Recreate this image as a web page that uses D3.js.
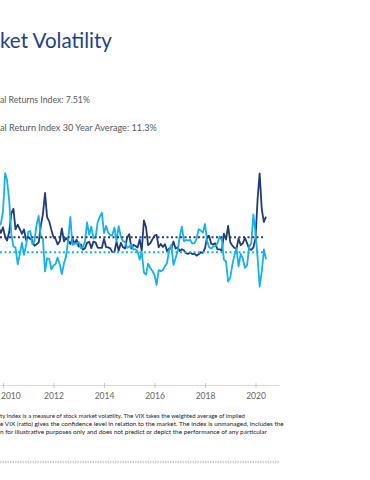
<!DOCTYPE html>
<html>
<head>
<meta charset="utf-8">
<script src="https://cdn.jsdelivr.net/npm/d3@7"></script>
<style>
  body { margin: 0; background: #fff; }
  svg { display: block; }
</style>
</head>
<body>
<div id="chart"></div>
<script>
// monthly closes, Sep 2009 .. Jun 2020
var firstMonth = new Date(2009, 8, 1);
var lastMonth = new Date(2020, 5, 1);

var vixClose = [
  25.6, 30.7, 24.5, 21.7,
  24.6, 19.5, 17.6, 22.1, 32.1, 34.5, 23.5, 26.1, 23.7, 21.2, 23.5, 17.8,
  19.5, 18.4, 17.7, 14.8, 15.5, 16.5, 25.3, 31.6, 43.0, 30.0, 27.8, 23.4,
  19.4, 18.4, 15.5, 17.2, 24.1, 17.1, 18.9, 17.5, 15.7, 18.6, 15.9, 18.0,
  14.3, 15.5, 12.7, 13.5, 16.3, 16.9, 13.5, 17.0, 16.6, 13.8, 13.7, 13.7,
  18.4, 14.0, 13.9, 13.4, 11.4, 11.6, 17.0, 12.1, 16.3, 14.0, 13.3, 19.2,
  21.0, 13.3, 15.3, 14.6, 13.8, 18.2, 12.1, 28.4, 24.5, 15.1, 16.1, 18.2,
  20.2, 20.6, 14.0, 15.7, 14.2, 15.6, 11.9, 13.4, 13.3, 17.1, 13.3, 14.0,
  12.0, 12.9, 12.4, 10.8, 10.4, 11.2, 10.3, 10.6, 9.5, 10.2, 11.3, 11.0,
  13.5, 19.9, 20.0, 15.9, 15.4, 16.1, 12.8, 12.9, 12.1, 21.2, 18.1, 25.4,
  16.6, 14.8, 13.7, 13.1, 18.7, 15.1, 16.1, 19.0, 16.2, 13.2, 12.6, 13.8,
  18.8, 40.1, 53.5, 34.2, 27.5, 30.4
];

// trailing 12-month total return, %
var totalReturn = [
  -6.9, 9.8, 25.4, 26.5,
  33.1, 53.6, 49.8, 38.8, 21.0, 14.4, 13.8, 4.9, 10.2, 16.5, 9.9, 15.1,
  22.2, 22.6, 15.6, 17.2, 25.9, 30.7, 19.6, 18.5, 1.1, 8.1, 7.8, 2.1,
  4.2, 5.1, 8.5, 4.8, -0.4, 5.4, 9.1, 18.0, 30.2, 15.2, 16.1, 16.0,
  16.8, 13.5, 14.0, 16.9, 27.3, 20.6, 25.0, 18.7, 19.3, 27.2, 30.3, 32.4,
  21.5, 25.4, 21.9, 20.4, 20.4, 24.6, 17.0, 25.3, 19.7, 17.3, 16.9, 13.7,
  14.2, 15.5, 12.7, 13.0, 11.8, 7.4, 11.2, 0.5, -0.6, 5.2, 2.8, 1.4,
  -0.7, -6.2, 1.8, 1.2, 1.7, 4.0, 5.6, 12.6, 15.4, 4.5, 8.1, 12.0,
  20.0, 25.0, 17.2, 17.9, 17.5, 17.9, 16.0, 16.2, 18.6, 23.6, 22.9, 21.8,
  26.4, 17.1, 14.0, 13.3, 14.4, 14.4, 16.2, 19.7, 17.9, 7.4, 6.3, -4.4,
  -2.3, 4.7, 9.5, 13.5, 3.8, 10.4, 8.0, 2.9, 4.3, 14.3, 16.1, 31.5,
  21.7, 8.2, -7.0, 0.9, 12.8, 7.5
];

var vixAverage = 19.3;
var returnAverage = 11.3;

var yearTicks = [2010, 2012, 2014, 2016, 2018, 2020];

// only the part of each text that shows in the frame
var titleText = "ket Volatility";
var legendTexts = [
  "al Returns Index: 7.51%",
  "al Return Index 30 Year Average: 11.3%"
];
var noteTexts = [
  "ty Index is a measure of stock market volatility. The VIX takes the weighted average of implied",
  "e VIX (ratio) gives the confidence level in relation to the market. The index is unmanaged, includes the",
  "n for illustrative purposes only and does not predict or depict the performance of any particular"
];

var width = 370, height = 480;
var navy = "#1f3b78", sky = "#14b1ef";
var font = "Lato, 'Noto Sans', sans-serif";

var months = d3.timeMonth.range(firstMonth, d3.timeMonth.offset(lastMonth, 1));

var svg = d3.select("#chart").append("svg")
  .attr("width", width)
  .attr("height", height)
  .style("font-family", font);

// shrink/grow a text so it ends where the reference's does
function fitWidth(sel, widths) {
  sel.each(function(d, i) {
    var t = d3.select(this);
    var w = this.getComputedTextLength();
    var fs = parseFloat(t.attr("font-size"));
    t.attr("font-size", (fs * widths[i] / w).toFixed(2));
  });
}

svg.append("text")
  .attr("x", 0).attr("y", 48)
  .attr("fill", "#1d3f8a")
  .attr("font-size", 19.5)
  .text(titleText)
  .call(fitWidth, [112]);

svg.selectAll(".legend-text")
  .data(legendTexts)
  .enter().append("text")
  .attr("class", "legend-text")
  .attr("x", 0)
  .attr("y", function(d, i) { return i == 0 ? 102.5 : 131; })
  .attr("fill", "#595959")
  .attr("font-size", 8)
  .text(function(d) { return d; })
  .call(fitWidth, [90, 157]);

// scales
var x = d3.scaleTime()
  .domain([new Date(2010, 0, 1), new Date(2020, 0, 1)])
  .range([3, 255.5]);
x.domain([x.invert(0), x.invert(279)]).range([0, 279]);

var y = d3.scaleLinear()
  .domain([0, 50])
  .range([273.4, 179.9]);

// x axis
var axis = svg.append("g")
  .attr("transform", "translate(0,385)")
  .call(d3.axisBottom(x)
    .tickValues(yearTicks.map(function(yr) { return new Date(yr, 0, 1); }))
    .tickFormat(d3.timeFormat("%Y"))
    .tickSize(3)
    .tickSizeOuter(0));
axis.select(".domain").attr("stroke", "#d9d9d9");
axis.selectAll(".tick line").attr("stroke", "#c8c8c8").attr("y1", -2);
axis.selectAll(".tick text")
  .attr("fill", "#666")
  .attr("font-size", 8.5)
  .attr("font-family", font)
  .attr("y", 8)
  .attr("dy", "0.71em");
// first label sits on the left edge; keep it inside the frame
axis.select(".tick text")
  .attr("text-anchor", "start")
  .attr("x", -x(new Date(yearTicks[0], 0, 1)) + 0.5);

// series
var line = d3.line()
  .x(function(d) { return x(d.date); })
  .y(function(d) { return y(d.value); });

var vixData = months.map(function(m, i) { return { date: m, value: vixClose[i] }; });
var retData = months.map(function(m, i) { return { date: m, value: totalReturn[i] }; });

svg.append("path")
  .datum(vixData)
  .attr("fill", "none")
  .attr("stroke", navy)
  .attr("stroke-width", 1.8)
  .attr("stroke-linejoin", "round")
  .attr("d", line);

svg.append("path")
  .datum(retData)
  .attr("fill", "none")
  .attr("stroke", sky)
  .attr("stroke-width", 1.8)
  .attr("stroke-linejoin", "round")
  .attr("d", line);

// averages
var avgEnd = x(d3.timeMonth.offset(lastMonth, -1));
[[vixAverage, navy], [returnAverage, sky]].forEach(function(a) {
  svg.append("line")
    .attr("x1", 0).attr("x2", avgEnd)
    .attr("y1", y(a[0])).attr("y2", y(a[0]))
    .attr("stroke", a[1])
    .attr("stroke-width", 2)
    .attr("stroke-dasharray", "2,2.5");
});

// footnote
svg.selectAll(".note")
  .data(noteTexts)
  .enter().append("text")
  .attr("class", "note")
  .attr("x", 0)
  .attr("y", function(d, i) { return 418 + i * 8; })
  .attr("fill", "#1a1a1a")
  .attr("font-size", 5.8)
  .text(function(d) { return d; })
  .call(fitWidth, [245, 284, 267]);

svg.append("line")
  .attr("x1", 0).attr("x2", 279)
  .attr("y1", 462).attr("y2", 462)
  .attr("stroke", "#cfcfcf")
  .attr("stroke-width", 2.5)
  .attr("stroke-dasharray", "1.5,1");
</script>
</body>
</html>
